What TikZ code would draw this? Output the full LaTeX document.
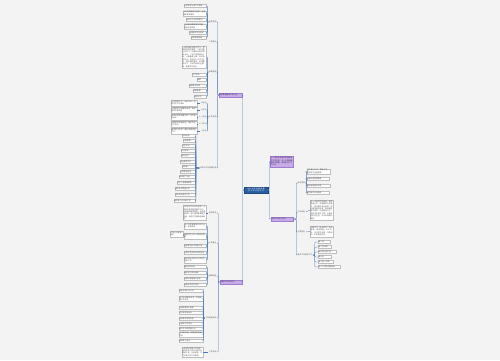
\documentclass[tikz,border=0pt]{standalone}
\usepackage{fontspec}
\newfontfamily\cjk{Noto Sans CJK SC}
\XeTeXlinebreaklocale "zh"
\XeTeXlinebreakskip=0pt plus 0.5pt
\usetikzlibrary{positioning}
\newcommand\tf{\cjk\fontsize{1.8}{2.4}\selectfont}
\definecolor{bgc}{RGB}{243,243,243}
\definecolor{linec}{RGB}{74,124,184}
\definecolor{leafb}{RGB}{190,190,190}
\definecolor{leaft}{RGB}{85,85,85}
\definecolor{ppf}{RGB}{200,172,232}
\definecolor{ppd}{RGB}{160,125,208}
\definecolor{ppt}{RGB}{60,40,90}
\definecolor{rootf}{RGB}{42,96,160}
\definecolor{rootd}{RGB}{30,70,130}
\begin{document}
\begin{tikzpicture}[x=1pt,y=-1pt,
  con/.style={draw=linec, line width=0.35pt, rounded corners=0.8pt},
  lf/.style={draw=leafb, line width=0.25pt, fill=white, inner xsep=0.5pt, inner ysep=0.7pt, text width=#1pt, align=left, font=\tf, text=leaft},
  lb/.style={inner sep=0.5pt, font=\tf, text=leaft},
  pp/.style={fill=ppf, draw=ppd, line width=0.3pt, inner xsep=0.5pt, inner ysep=0.9pt, text width=#1pt, align=left, font=\tf, text=ppt},
  rt/.style={fill=rootf, draw=rootd, line width=0.3pt, inner xsep=0.6pt, inner ysep=1.2pt, text width=#1pt, align=center, font=\tf, text=white}
]
\fill[bgc] (0,0) rectangle (500,360);
\useasboundingbox (0,0) rectangle (500,360);

% ---------- root ----------
\node[rt=23] (R) at (256,190) {2023年学校教育教学工作计划范文};

% ---------- level 1 ----------
\node[pp=22, anchor=east] (A) at (242,95) {学校教育教学工作计划};
\node[pp=21, anchor=east] (B) at (242,282) {学期工作计划范文};
\node[pp=22, anchor=west] (C) at (270,161.5) {为了更好地完成本学期的各项工作任务，进一步提高教育教学质量，特制定如下工作计划。};
\node[pp=21, anchor=west] (D) at (271,219) {学校工作计划范文};

\draw[con] (R.west) -- ++(-1,0) |- (A.east);
\draw[con] (R.west) -- ++(-1,0) |- (B.east);
\draw[con] (R.east) -- ++(1,0) |- (C.west);
\draw[con] (R.east) -- ++(1,0) |- (D.west);

% ---------- group A ----------
\node[lb, anchor=east] (a1) at (217,22) {指导思想};
\node[lb, anchor=east] (a2) at (217,42) {工作目标};
\node[lb, anchor=east] (a3) at (217,72) {具体措施};
\node[lb, anchor=east] (a4) at (217,117) {工作安排};
\node[lb, anchor=east] (a5) at (217,168) {日常工作与常规检查};
\foreach \n in {a1,a2,a3,a4,a5} \draw[con] (A.west) -- ++(-1,0) |- (\n.east);

\node[lf=21, anchor=east] (a11) at (206,6) {认真贯彻上级工作精神};
\node[lf=22, anchor=east] (a12) at (206,13.5) {以科学发展观为指导，全面推进素质教育};
\node[lf=19, anchor=east] (a13) at (206,20) {坚持以人为本的理念};
\node[lf=21, anchor=east] (a14) at (206,26.5) {不断提高教育教学质量，促进全面发展};
\node[lf=16, anchor=east] (a15) at (206,32.5) {加强教师队伍建设};
\node[lf=14, anchor=east] (a16) at (206,37.5) {完善管理制度};
\foreach \n in {a11,a12,a13,a14,a15,a16} \draw[con] (a1.west) -- ++(-1,0) |- (\n.east);

\node[lf=23, anchor=east] (a31) at (206,57) {一是加强政治理论学习，提高教师思想素质；二是注重业务学习，积极参加各类培训活动；三是开展教研活动，认真备课上课，及时批改作业；四是关心学生成长，做好家校联系，形成教育合力；五是加强安全教育，确保师生安全。};
\node[lf=13, anchor=east] (a32) at (206,75) {学习培训};
\node[lf=8, anchor=east] (a33) at (206,80) {教研};
\node[lf=16, anchor=east] (a34) at (206,85.5) {课堂教学改革};
\node[lf=12, anchor=east] (a35) at (206,91) {班级管理};
\node[lf=11, anchor=east] (a36) at (206,96.5) {家校合作};
\foreach \n in {a31,a32,a33,a34,a35,a36} \draw[con] (a3.west) -- ++(-1,0) |- (\n.east);

\node[lb, anchor=east] (a41) at (207,103) {九月份};
\node[lb, anchor=east] (a42) at (207,110) {十月份};
\node[lb, anchor=east] (a43) at (207,117) {十一月份};
\node[lb, anchor=east] (a44) at (207,124) {十二月份};
\node[lb, anchor=east] (a45) at (207,131) {一月份};
\foreach \n in {a41,a42,a43,a44,a45} \draw[con] (a4.west) -- ++(-1,0) |- (\n.east);
\node[lf=25, anchor=east] (a411) at (197,103) {开学准备工作，制定计划，组织学生学习常规};
\node[lf=25, anchor=east] (a421) at (197,110) {开展国庆主题教育活动，组织教师听课评课};
\node[lf=25, anchor=east] (a431) at (197,117) {期中考试及质量分析，召开家长会议};
\node[lf=25, anchor=east] (a441) at (197,124) {开展教学常规检查，组织学生文艺活动};
\node[lf=25, anchor=east] (a451) at (197,131) {期末复习考试，做好学期总结工作};
\draw[con] (a41.west) -- (a411.east);
\draw[con] (a42.west) -- (a421.east);
\draw[con] (a43.west) -- (a431.east);
\draw[con] (a44.west) -- (a441.east);
\draw[con] (a45.west) -- (a451.east);

\node[lf=12, anchor=east] (a51) at (195,136) {早读检查};
\node[lf=11, anchor=east] (a52) at (195,141) {午休管理};
\node[lf=12, anchor=east] (a53) at (195,146) {卫生评比};
\node[lf=13, anchor=east] (a54) at (195,151) {作业批改};
\node[lf=13, anchor=east] (a55) at (195,156) {课外活动};
\node[lf=14, anchor=east] (a56) at (195,161.5) {安全教育工作};
\node[lf=12, anchor=east] (a57) at (195,167) {班会课};
\node[lf=14, anchor=east] (a58) at (195,172) {主题教育活动};
\node[lf=15, anchor=east] (a59) at (195,177) {阅读推广活动};
\node[lf=17, anchor=east] (a5a) at (195,182.5) {学生心理健康教育};
\node[lf=19, anchor=east] (a5b) at (195,188.5) {期中考试质量分析};
\node[lf=19, anchor=east] (a5c) at (195,195) {家长会及家访工作};
\node[lf=20, anchor=east] (a5d) at (195,201) {期末复习与总结工作};
\foreach \n in {a51,a52,a53,a54,a55,a56,a57,a58,a59,a5a,a5b,a5c,a5d} \draw[con] (a5.west) -- ++(-3.5,0) |- (\n.east);

% ---------- group B ----------
\node[lb, anchor=east] (b1) at (217,213) {指导思想};
\node[lb, anchor=east] (b2) at (217,243) {工作重点};
\node[lb, anchor=east] (b3) at (217,276) {保障措施};
\node[lb, anchor=east] (b4) at (217,318) {工作进度安排};
\node[lb, anchor=east] (b5) at (217,352) {工作总结};
\foreach \n in {b1,b2,b3,b4,b5} \draw[con] (B.west) -- ++(-1.5,0) |- (\n.east);

\node[lf=22, anchor=east] (b11) at (206,213) {以学校工作计划为指导，认真落实各项教育教学工作，全面推进素质教育，深化课程改革，努力提高教育教学质量，促进学生健康全面发展。};
\draw[con] (b1.west) -- (b11.east);

\node[lf=21, anchor=east] (b21) at (206,226) {深入开展课堂教学研究活动，提高效率};
\node[lf=21, anchor=east] (b22) at (206,236) {加强学生行为习惯养成教育};
\node[lf=21, anchor=east] (b23) at (206,246) {积极推进校本课程开发};
\node[lf=21, anchor=east] (b24) at (206,252.5) {开展丰富多彩的校园活动};
\node[lf=21, anchor=east] (b25) at (206,260) {做好后进生转化与优秀生培养工作};
\foreach \n in {b21,b22,b23,b24,b25} \draw[con] (b2.west) -- ++(-1,0) |- (\n.east);
\node[lf=12, anchor=east] (b221) at (183,234) {文明礼仪教育活动};
\draw[con] (b22.west) -- (b221.east);

\node[lf=21, anchor=east] (b31) at (206,267) {健全组织机构};
\node[lf=21, anchor=east] (b32) at (206,273) {落实岗位责任制度};
\node[lf=21, anchor=east] (b33) at (206,279) {加强过程管理与督查};
\node[lf=21, anchor=east] (b34) at (206,285) {完善考核评价机制};
\foreach \n in {b31,b32,b33,b34} \draw[con] (b3.west) -- ++(-1,0) |- (\n.east);

\node[lf=23, anchor=east] (b41) at (203,291) {制定学期工作计划};
\node[lf=23, anchor=east] (b42) at (203,298.5) {召开全体教师会议，布置各项工作任务};
\node[lf=23, anchor=east] (b43) at (203,307.5) {开展新教师汇报课};
\node[lf=23, anchor=east] (b44) at (203,313) {举行秋季运动会};
\node[lf=23, anchor=east] (b45) at (203,318.5) {组织教学常规检查};
\node[lf=23, anchor=east] (b46) at (203,323.5) {开展读书节活动};
\node[lf=23, anchor=east] (b47) at (203,328.5) {期中考试及质量分析};
\node[lf=23, anchor=east] (b48) at (203,334.5) {召开家长会，加强家校沟通交流};
\node[lf=23, anchor=east] (b49) at (203,340.5) {期末复习考试};
\foreach \n in {b41,b42,b43,b44,b45,b46,b47,b48,b49} \draw[con] (b4.west) -- ++(-1.4,0) |- (\n.east);

\node[lf=20, anchor=east] (b51) at (203,352) {认真做好学期工作总结，及时反思工作中存在的问题和不足，总结经验，为下学期工作打好基础。};
\draw[con] (b5.west) -- (b51.east);

% ---------- group D ----------
\node[lb, anchor=west] (d1) at (297,183) {指导思想};
\node[lb, anchor=west] (d2) at (297,212) {工作目标};
\node[lb, anchor=west] (d3) at (297,232) {主要任务};
\node[lb, anchor=west] (d4) at (297,255) {具体工作安排如下};
\foreach \n in {d1,d2,d3,d4} \draw[con] (D.east) -- ++(3,0) |- (\n.west);

\node[lf=22, anchor=west] (d11) at (306.5,171.5) {坚持育人为本，德育为先，促进学生全面发展};
\node[lf=21, anchor=west] (d12) at (306.5,178.5) {全面实施素质教育};
\node[lf=22, anchor=west] (d13) at (306.5,186) {深化课程教学改革};
\node[lf=21, anchor=west] (d14) at (306.5,193) {提升教师专业素养};
\foreach \n in {d11,d12,d13,d14} \draw[con] (d1.east) -- ++(1,0) |- (\n.west);

\node[lf=22, anchor=west] (d21) at (310,210) {进一步规范学校管理，提高管理水平；加强教师队伍建设，提升教师专业素质；深化课堂教学改革，提高课堂教学效率；加强德育工作，培养学生良好习惯；丰富校园文化生活，办人民满意的教育。};
\draw[con] (d2.east) -- (d21.west);
\node[lf=22, anchor=west] (d31) at (310,231.5) {加强学习，转变观念；规范管理，提高质量；以人为本，关注学生发展；开展活动，丰富校园生活。};
\draw[con] (d3.east) -- (d31.west);

\node[lf=11, anchor=west] (d41) at (318,242) {第一周};
\node[lf=12, anchor=west] (d42) at (318,247) {第二至四周};
\node[lf=17, anchor=west] (d43) at (318,252) {第五周至第八周};
\node[lf=12, anchor=west] (d44) at (318,257) {第九周};
\node[lf=14, anchor=west] (d45) at (318,262) {第十至十五周};
\node[lf=21, anchor=west] (d46) at (318,267) {第十六周至学期结束};
\foreach \n in {d41,d42,d43,d44,d45,d46} \draw[con] (d4.east) -- ++(2,0) |- (\n.west);
\end{tikzpicture}
\end{document}
